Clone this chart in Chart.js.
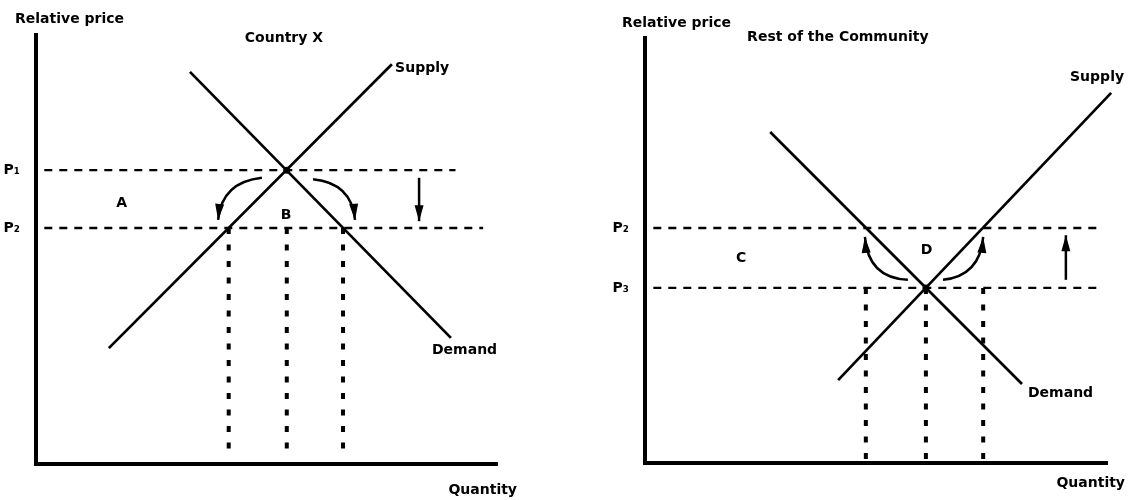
<!DOCTYPE html>
<html lang="en">
<head>
  <meta charset="UTF-8">
  <title>Country X and Rest of the Community</title>
  <script src="https://cdn.jsdelivr.net/npm/chart.js"></script>
  <style>
    body { margin: 0; background: #fff; }
    #wrap { position: relative; width: 1132px; height: 500px; }
    canvas { position: absolute; top: 0; }
  </style>
</head>
<body>
<div id="wrap">
  <canvas id="countryX" width="566" height="500" style="left:0"></canvas>
  <canvas id="restOf" width="566" height="500" style="left:566px"></canvas>
</div>
<script>
  // Country X  (quantity and relative price on a 0-100 scale)
  const xPriceLabels = ['P₁', 'P₂'];
  const xPrices = [68.5, 55];
  const xPriceEnds = [91, 97];
  const xSupplyQ = [15.8, 77.2];
  const xSupplyP = [27.0, 93.2];
  const xDemandQ = [33.4, 90.0];
  const xDemandP = [91.4, 29.4];
  const xEquilibrium = [54.4, 68.5];
  const xQuantities = [41.8, 54.4, 66.6];
  const xQuantityFloor = 3;
  // curved arrows: start q,p / bend q,p / tip q,p
  const xCurveArrows = [[49.0, 66.7, 40.3, 65.7, 39.5, 56.9], [60.1, 66.4, 68.5, 65.5, 69.2, 56.9]];
  // straight arrows: q, from p, to p
  const xArrows = [[83.1, 66.7, 56.6]];

  // Rest of the Community
  const rPriceLabels = ['P₂', 'P₃'];
  const rPrices = [55.3, 41.2];
  const rPriceEnds = [99, 99];
  const rSupplyQ = [41.8, 100.9];
  const rSupplyP = [19.5, 87.1];
  const rDemandQ = [27.1, 81.6];
  const rDemandP = [77.9, 18.6];
  const rEquilibrium = [60.8, 41.2];
  const rQuantities = [47.8, 60.8, 73.2];
  const rQuantityFloor = 0;
  const rCurveArrows = [[56.9, 43.1, 48.3, 43.5, 47.6, 53.2], [64.5, 43.1, 72.5, 44.0, 73.2, 53.2]];
  const rArrows = [[91.1, 43.1, 53.6]];

  const FAMILY = '"DejaVu Sans", sans-serif';
  const FONT = 'bold 14px ' + FAMILY;

  function arrowHead(ctx, x, y, ang) {
    const len = 16, half = 4.5;
    const c = Math.cos(ang), s = Math.sin(ang);
    ctx.beginPath();
    ctx.moveTo(x, y);
    ctx.lineTo(x - len * c + half * s, y - len * s - half * c);
    ctx.lineTo(x - len * c - half * s, y - len * s + half * c);
    ctx.closePath();
    ctx.fill();
  }

  // arrows and text labels, placed through the chart's own scales
  const extras = {
    id: 'extras',
    afterDatasetsDraw(chart, args, opts) {
      const { ctx, chartArea: a, scales: { x, y } } = chart;
      const px = v => x.getPixelForValue(v), py = v => y.getPixelForValue(v);
      ctx.save();
      ctx.strokeStyle = '#000';
      ctx.fillStyle = '#000';
      ctx.lineWidth = 2.5;

      opts.curves.forEach(c => {
        const x0 = px(c[0]), y0 = py(c[1]), x1 = px(c[2]), y1 = py(c[3]), x2 = px(c[4]), y2 = py(c[5]);
        ctx.beginPath();
        ctx.moveTo(x0, y0);
        ctx.quadraticCurveTo(x1, y1, x2, y2);
        ctx.stroke();
        arrowHead(ctx, x2, y2, Math.atan2(y2 - y1, x2 - x1));
      });
      opts.arrows.forEach(r => {
        const xx = px(r[0]), y0 = py(r[1]), y1 = py(r[2]);
        ctx.beginPath();
        ctx.moveTo(xx, y0);
        ctx.lineTo(xx, y1);
        ctx.stroke();
        arrowHead(ctx, xx, y1, Math.atan2(y1 - y0, 0));
      });

      ctx.font = FONT;
      ctx.textBaseline = 'middle';
      ctx.textAlign = 'left';
      opts.notes.forEach(n => ctx.fillText(n.text, px(n.q), py(n.p)));
      ctx.fillText('Relative price', a.left + opts.yTitleDx, opts.yTitleY);
      ctx.textAlign = 'right';
      ctx.fillText('Quantity', a.right + opts.xTitleDx, opts.xTitleY);
      ctx.restore();
    }
  };

  function lineSet(qs, ps, dash, width) {
    return {
      data: qs.map((q, i) => ({ x: q, y: ps[i] })),
      showLine: true, pointRadius: 0, borderColor: '#000', borderWidth: width,
      borderDash: dash, clip: false
    };
  }

  function makeChart(id, d) {
    const datasets = [];
    const low = Math.min(...d.prices);
    d.prices.forEach((p, i) => datasets.push(lineSet([1.8, d.priceEnds[i]], [p, p], [8, 7], 2.4)));
    d.quantities.forEach(q => datasets.push(lineSet([q, q], [low, d.floor], [6, 10.5], 4)));
    datasets.push(lineSet(d.supplyQ, d.supplyP, [], 2.7));
    datasets.push(lineSet(d.demandQ, d.demandP, [], 2.7));
    datasets.push({
      data: [{ x: d.eq[0], y: d.eq[1] }], pointRadius: 3.5,
      pointBackgroundColor: '#000', pointBorderWidth: 0
    });

    return new Chart(document.getElementById(id), {
      type: 'scatter',
      data: { datasets },
      plugins: [extras],
      options: {
        responsive: false,
        animation: false,
        layout: { padding: d.padding },
        scales: {
          x: {
            min: 0, max: 100,
            grid: { display: false },
            border: { color: '#000', width: 4 },
            ticks: { display: false },
            afterFit: s => { s.height = d.xAxisHeight; }
          },
          y: {
            min: 0, max: 100,
            grid: { display: false },
            border: { color: '#000', width: 4 },
            afterBuildTicks: s => { s.ticks = d.prices.map(v => ({ value: v })); },
            ticks: {
              padding: 8, color: '#000',
              font: { family: FAMILY, size: 14, weight: 'bold' },
              callback: (v, i) => d.priceLabels[i]
            },
            afterFit: s => { s.width = d.yAxisWidth; }
          }
        },
        plugins: {
          legend: { display: false },
          tooltip: { enabled: false },
          extras: {
            curves: d.curves, arrows: d.arrows, notes: d.notes,
            yTitleDx: d.yTitleDx, yTitleY: d.yTitleY, xTitleDx: d.xTitleDx, xTitleY: d.xTitleY
          }
        }
      }
    });
  }

  makeChart('countryX', {
    priceLabels: xPriceLabels, prices: xPrices, priceEnds: xPriceEnds, floor: xQuantityFloor,
    supplyQ: xSupplyQ, supplyP: xSupplyP, demandQ: xDemandQ, demandP: xDemandP,
    eq: xEquilibrium, quantities: xQuantities, curves: xCurveArrows, arrows: xArrows,
    padding: { left: 0, top: 35, right: 69, bottom: 0 }, xAxisHeight: 36, yAxisWidth: 36,
    yTitleDx: -21, yTitleY: 19, xTitleDx: 20, xTitleY: 490,
    notes: [
      { text: 'Country X', q: 45.3, p: 99.3 },
      { text: 'Supply', q: 77.9, p: 92.3 },
      { text: 'Demand', q: 85.9, p: 26.6 },
      { text: 'A', q: 17.4, p: 60.8 },
      { text: 'B', q: 53.1, p: 58.0 }
    ]
  });

  makeChart('restOf', {
    priceLabels: rPriceLabels, prices: rPrices, priceEnds: rPriceEnds, floor: rQuantityFloor,
    supplyQ: rSupplyQ, supplyP: rSupplyP, demandQ: rDemandQ, demandP: rDemandP,
    eq: rEquilibrium, quantities: rQuantities, curves: rCurveArrows, arrows: rArrows,
    padding: { left: 0, top: 38, right: 25, bottom: 0 }, xAxisHeight: 37, yAxisWidth: 79,
    yTitleDx: -23, yTitleY: 23, xTitleDx: 18, xTitleY: 483,
    notes: [
      { text: 'Rest of the Community', q: 22.1, p: 100.2 },
      { text: 'Supply', q: 92.0, p: 90.8 },
      { text: 'Demand', q: 82.9, p: 16.5 },
      { text: 'C', q: 19.7, p: 48.2 },
      { text: 'D', q: 59.7, p: 50.1 }
    ]
  });
</script>
</body>
</html>
